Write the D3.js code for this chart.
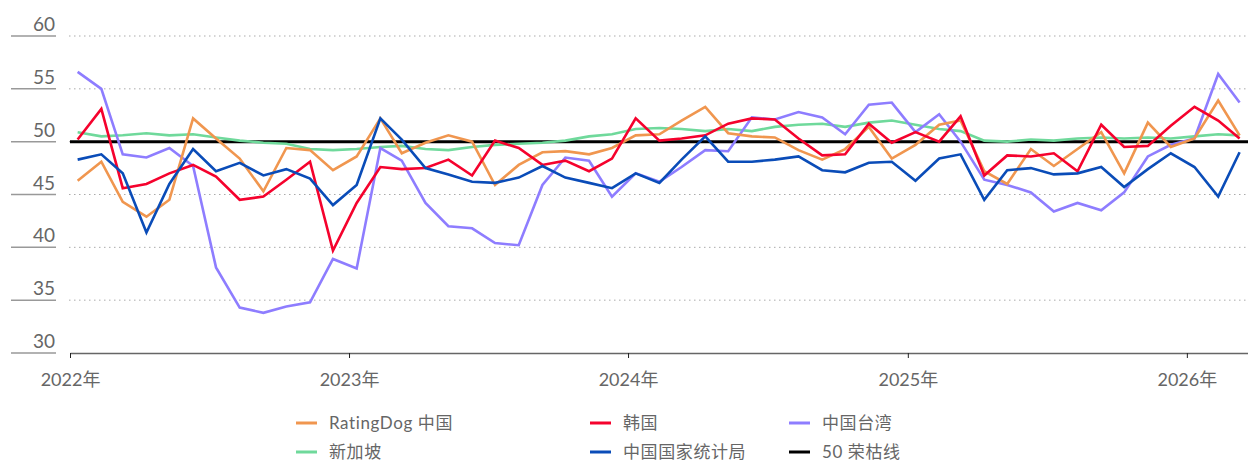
<!DOCTYPE html>
<html>
<head>
<meta charset="utf-8">
<script src="https://cdn.jsdelivr.net/npm/d3@7"></script>
<style>
  body { margin: 0; background: #fff; }
  text { font-family: Lato, "Noto Sans CJK SC", sans-serif; fill: #666; }
</style>
</head>
<body>
<div id="chart"></div>
<script>
// monthly readings, Jan 2022 .. Mar 2026
const startMonth = new Date(2022, 0, 11);
const monthCount = 51;

const ratingdog = [46.3, 48.1, 44.3, 42.9, 44.5, 52.2, 50.3, 48.4, 45.3, 49.4, 49.2, 47.3,
  48.6, 52.2, 48.9, 49.9, 50.6, 50.0, 45.9, 47.8, 49.0, 49.1, 48.8, 49.4,
  50.6, 50.7, 52.0, 53.3, 50.8, 50.5, 50.4, 49.2, 48.3, 49.3, 51.4, 48.4,
  49.7, 51.6, 52.0, 47.2, 46.0, 49.3, 47.7, 49.3, 50.9, 47.0, 51.8, 49.5,
  50.3, 53.9, 50.6];

const korea = [50.2, 53.1, 45.6, 46.0, 47.0, 47.8, 46.7, 44.5, 44.8, 46.4, 48.1, 39.7,
  44.2, 47.6, 47.4, 47.5, 48.3, 46.8, 50.1, 49.4, 47.8, 48.2, 47.2, 48.4,
  52.2, 50.1, 50.3, 50.6, 51.7, 52.2, 52.1, 50.3, 48.7, 48.8, 51.7, 49.9,
  50.9, 50.0, 52.4, 46.8, 48.7, 48.6, 48.9, 47.2, 51.6, 49.5, 49.6, 51.5,
  53.3, 52.0, 50.3];

const taiwan = [56.6, 55.0, 48.8, 48.5, 49.4, 47.7, 38.1, 34.3, 33.8, 34.4, 34.8, 38.9,
  38.0, 49.4, 48.2, 44.2, 42.0, 41.8, 40.4, 40.2, 45.9, 48.5, 48.2, 44.8,
  47.0, 46.2, 47.6, 49.2, 49.1, 52.3, 52.1, 52.8, 52.3, 50.7, 53.5, 53.7,
  50.9, 52.6, 50.0, 46.4, 45.9, 45.2, 43.4, 44.2, 43.5, 45.2, 48.6, 49.7,
  50.3, 56.4, 53.7];

const singapore = [50.9, 50.5, 50.6, 50.8, 50.6, 50.7, 50.4, 50.1, 49.9, 49.8, 49.3, 49.2,
  49.3, 49.5, 49.6, 49.3, 49.2, 49.5, 49.7, 49.8, 49.9, 50.1, 50.5, 50.7,
  51.2, 51.3, 51.2, 51.0, 51.2, 51.0, 51.4, 51.6, 51.7, 51.4, 51.8, 52.0,
  51.6, 51.2, 51.0, 50.1, 50.0, 50.2, 50.1, 50.3, 50.4, 50.3, 50.4, 50.3,
  50.5, 50.7, 50.6];

const nbs = [48.3, 48.8, 47.0, 41.4, 46.0, 49.3, 47.2, 48.0, 46.8, 47.4, 46.5, 44.0,
  45.9, 52.2, 50.2, 47.5, 46.9, 46.2, 46.1, 46.6, 47.7, 46.6, 46.1, 45.6,
  47.0, 46.1, 48.3, 50.5, 48.1, 48.1, 48.3, 48.6, 47.3, 47.1, 48.0, 48.1,
  46.3, 48.4, 48.8, 44.5, 47.3, 47.5, 46.9, 47.0, 47.6, 45.7, 47.4, 48.9,
  47.6, 44.8, 49.0];

const threshold = 50;

const seriesNames = ['RatingDog 中国', '韩国', '中国台湾', '新加坡', '中国国家统计局', '50 荣枯线'];
const seriesColors = ['#F0964F', '#F5022D', '#8E7DFF', '#6FD99B', '#0A4CB8', '#000000'];

const yTicks = [30, 35, 40, 45, 50, 55, 60];
const yearTicks = [2022, 2023, 2024, 2025, 2026];

const width = 1248;
const height = 462;

const months = d3.range(monthCount).map((i) => d3.timeMonth.offset(startMonth, i));

const svg = d3.select('#chart')
  .append('svg')
  .attr('width', width)
  .attr('height', height);

const x = d3.scaleTime()
  .domain([new Date(2022, 0, 1), new Date(2026, 2, 22)])
  .range([70, 1248]);

const y = d3.scaleLinear()
  .domain([30, 60])
  .range([353, 36]);

// dotted gridlines
svg.append('g')
  .selectAll('line')
  .data(yTicks.filter((d) => d !== 30))
  .join('line')
  .attr('x1', 69)
  .attr('x2', width)
  .attr('y1', (d) => y(d))
  .attr('y2', (d) => y(d))
  .attr('stroke', '#aaa')
  .attr('stroke-width', 1)
  .attr('stroke-dasharray', '1.5,3.5');

// y labels with short underline
const yLab = svg.append('g').selectAll('g').data(yTicks).join('g')
  .attr('transform', (d) => `translate(0,${y(d)})`);
yLab.append('line')
  .attr('x1', 11).attr('x2', 56)
  .attr('stroke', '#999').attr('stroke-width', 1.5);
yLab.append('text')
  .attr('x', 55).attr('y', -5)
  .attr('text-anchor', 'end')
  .style('font-size', '19px')
  .text((d) => d);

// x axis
const xAxis = svg.append('g')
  .attr('transform', `translate(0,${y(30)})`)
  .call(d3.axisBottom(x)
    .tickValues(yearTicks.map((yr) => new Date(yr, 0, 1)))
    .tickSize(5)
    .tickSizeOuter(0)
    .tickFormat((d) => d.getFullYear() + '年'));
xAxis.select('.domain').attr('stroke', '#666').attr('stroke-width', 1.5);
xAxis.selectAll('.tick line').attr('stroke', '#222');
xAxis.selectAll('.tick text')
  .attr('y', 33).attr('dy', 0)
  .style('font-size', '18px')
  .style('font-family', 'Lato, "Noto Sans CJK SC", sans-serif')
  .attr('fill', '#666');

// 50 line
svg.append('line')
  .attr('x1', x.range()[0]).attr('x2', x.range()[1])
  .attr('y1', y(threshold)).attr('y2', y(threshold))
  .attr('stroke', seriesColors[5])
  .attr('stroke-width', 3);

const line = d3.line()
  .x((d, i) => x(months[i]))
  .y((d) => y(d));

const drawOrder = [
  [singapore, 3],
  [taiwan, 2],
  [ratingdog, 0],
  [korea, 1],
  [nbs, 4],
];

svg.append('g')
  .selectAll('path')
  .data(drawOrder)
  .join('path')
  .attr('d', (d) => line(d[0]))
  .attr('fill', 'none')
  .attr('stroke', (d) => seriesColors[d[1]])
  .attr('stroke-width', 2.6)
  .attr('stroke-linejoin', 'miter');

// legend
const legendCols = [296, 590, 789];
const legendRows = [423, 452];
const legend = svg.append('g').selectAll('g').data(seriesNames).join('g')
  .attr('transform', (d, i) => `translate(${legendCols[i % 3]},${legendRows[Math.floor(i / 3)]})`);
legend.append('line')
  .attr('x1', 0).attr('x2', 21)
  .attr('stroke', (d, i) => seriesColors[i])
  .attr('stroke-width', 3);
legend.append('text')
  .attr('x', 33).attr('dy', '0.35em')
  .style('font-size', '17px')
  .style('letter-spacing', '0.6px')
  .text((d) => d);
</script>
</body>
</html>
